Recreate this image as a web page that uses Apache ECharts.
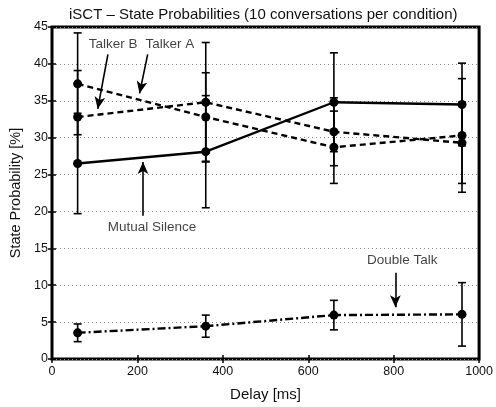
<!doctype html>
<html>
<head>
<meta charset="utf-8">
<script src="https://cdn.jsdelivr.net/npm/echarts@6/dist/echarts.min.js"></script>
<style>
  html, body { margin: 0; padding: 0; background: #fff; }
  #chart { width: 496px; height: 407px; }
</style>
</head>
<body>
<div id="chart"></div>
<script>
// delay conditions [ms]
var delays = [60, 360, 660, 960];

// state probabilities [%] and half-width of error bars
var mutualSilence = [26.5, 28.1, 34.8, 34.5];
var mutualSilenceErr = [6.8, 7.6, 6.7, 5.6];
var talkerA = [37.3, 32.8, 28.7, 30.3];
var talkerAErr = [6.9, 6.0, 4.9, 7.7];
var talkerB = [32.8, 34.8, 30.8, 29.3];
var talkerBErr = [6.3, 8.1, 4.6, 5.5];
var doubleTalk = [3.55, 4.45, 5.95, 6.05];
var doubleTalkErr = [1.2, 1.5, 2.0, 4.3];

// annotation texts and arrows, in data units
var notes = [
  { text: 'Talker B', at: [143, 42.7], from: [131, 41.3], to: [107, 33.9] },
  { text: 'Talker A', at: [276, 42.7], from: [224, 41.3], to: [205, 36.0] },
  { text: 'Mutual Silence', at: [234, 17.9], from: [213, 19.4], to: [213, 26.7] },
  { text: 'Double Talk', at: [820, 13.4], from: [804, 11.7], to: [804, 7.0] }
];

function pts(vals) {
  return delays.map(function (d, i) { return [d, vals[i]]; });
}
function bars(vals, err) {
  return delays.map(function (d, i) { return [d, vals[i] - err[i], vals[i] + err[i]]; });
}

function errorBar(params, api) {
  var lo = api.coord([api.value(0), api.value(1)]);
  var hi = api.coord([api.value(0), api.value(2)]);
  var w = 4;
  var st = { stroke: '#000', lineWidth: 1.6 };
  return {
    type: 'group',
    children: [
      { type: 'line', shape: { x1: lo[0], y1: lo[1], x2: hi[0], y2: hi[1] }, style: st },
      { type: 'line', shape: { x1: lo[0] - w, y1: lo[1], x2: lo[0] + w, y2: lo[1] }, style: st },
      { type: 'line', shape: { x1: hi[0] - w, y1: hi[1], x2: hi[0] + w, y2: hi[1] }, style: st }
    ]
  };
}

function lineSeries(name, vals, dash) {
  return {
    name: name, type: 'line', data: pts(vals),
    symbol: 'circle', symbolSize: 9,
    itemStyle: { color: '#000' },
    lineStyle: { color: '#000', width: 2.4, type: dash },
    animation: false, z: 3
  };
}
function errSeries(vals, err) {
  return { type: 'custom', renderItem: errorBar, data: bars(vals, err), animation: false, z: 2 };
}

var font = 'Liberation Sans, Arial, sans-serif';

var series = [
  errSeries(mutualSilence, mutualSilenceErr),
  errSeries(talkerA, talkerAErr),
  errSeries(talkerB, talkerBErr),
  errSeries(doubleTalk, doubleTalkErr),
  lineSeries('Mutual Silence', mutualSilence, 'solid'),
  lineSeries('Talker A', talkerA, [6, 4]),
  lineSeries('Talker B', talkerB, [6, 4]),
  lineSeries('Double Talk', doubleTalk, [8, 3, 2, 3]),
  {
    type: 'scatter', symbolSize: 0, animation: false, silent: true,
    data: notes.map(function (n) { return { value: n.at, name: n.text }; }),
    label: {
      show: true, position: 'inside', formatter: '{b}',
      color: '#111', fontSize: 13.5, fontFamily: font
    },
    markLine: {
      silent: true, animation: false,
      symbol: ['none', 'arrow'], symbolSize: [8, 12],
      label: { show: false },
      lineStyle: { color: '#000', width: 1.6, type: 'solid' },
      data: notes.map(function (n) {
        return [{ coord: n.from }, { coord: n.to }];
      })
    }
  }
];

var chart = echarts.init(document.getElementById('chart'));
chart.setOption({
  backgroundColor: '#fff',
  animation: false,
  title: {
    text: 'iSCT \u2013 State Probabilities (10 conversations per condition)',
    left: 64, top: 2,
    textStyle: { fontSize: 15, fontWeight: 'normal', color: '#111', fontFamily: font }
  },
  grid: { left: 52, right: 16, top: 27, bottom: 43, show: true, borderColor: '#000', borderWidth: 3 },
  xAxis: [{
    type: 'value', min: 0, max: 1000, interval: 200,
    name: 'Delay [ms]', nameLocation: 'middle', nameGap: 28,
    nameTextStyle: { fontSize: 15, color: '#111', fontFamily: font },
    axisLine: { show: false },
    axisTick: { inside: true, length: 4, lineStyle: { color: '#000', width: 1.5 } },
    axisLabel: {
      fontSize: 12.5, color: '#111', fontFamily: font, margin: 6,
      formatter: function (v) { return String(v); }
    },
    splitLine: { show: false }
  }, {
    type: 'value', min: 0, max: 1000, interval: 200, position: 'top',
    axisLine: { show: false },
    axisTick: { inside: true, length: 4, lineStyle: { color: '#000', width: 1.5 } },
    axisLabel: { show: false }, splitLine: { show: false }
  }],
  yAxis: [{
    type: 'value', min: 0, max: 45, interval: 5,
    name: 'State Probability [%]', nameLocation: 'middle', nameGap: 25,
    nameTextStyle: { fontSize: 14.5, color: '#111', fontFamily: font },
    axisLine: { show: false },
    axisTick: { inside: true, length: 4, lineStyle: { color: '#000', width: 1.5 } },
    axisLabel: { fontSize: 12.5, color: '#111', fontFamily: font, margin: 4 },
    splitLine: { show: true, lineStyle: { color: '#888', type: [1, 3], width: 1 } }
  }, {
    type: 'value', min: 0, max: 45, interval: 5, position: 'right',
    axisLine: { show: false },
    axisTick: { inside: true, length: 4, lineStyle: { color: '#000', width: 1.5 } },
    axisLabel: { show: false }, splitLine: { show: false }
  }],
  series: series
});
</script>
</body>
</html>
